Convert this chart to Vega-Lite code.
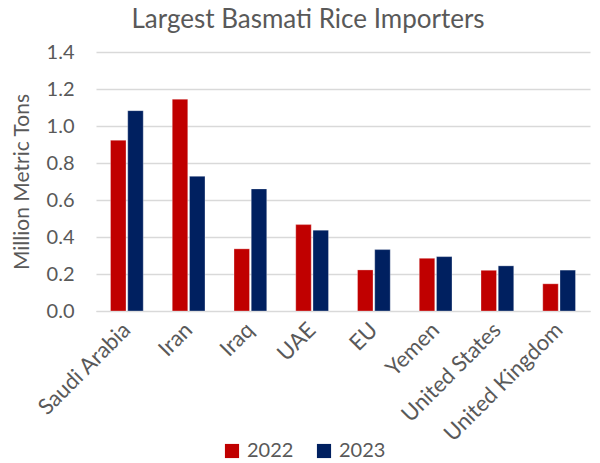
{
  "$schema": "https://vega.github.io/schema/vega-lite/v6.json",
  "width": 494,
  "height": 259,
  "autosize": "none",
  "padding": {"left": 96, "top": 52, "right": 10, "bottom": 152},
  "background": "white",
  "title": {
    "text": "Largest Basmati Rice Importers",
    "fontSize": 26,
    "font": "Lato",
    "fontWeight": "normal",
    "color": "#595959",
    "anchor": "middle",
    "dx": -35,
    "offset": 9
  },
  "data": {
    "values": [
      {"country": "Saudi Arabia", "year": "2022", "value": 0.923},
      {"country": "Saudi Arabia", "year": "2023", "value": 1.083},
      {"country": "Iran", "year": "2022", "value": 1.145},
      {"country": "Iran", "year": "2023", "value": 0.728},
      {"country": "Iraq", "year": "2022", "value": 0.336},
      {"country": "Iraq", "year": "2023", "value": 0.66},
      {"country": "UAE", "year": "2022", "value": 0.467},
      {"country": "UAE", "year": "2023", "value": 0.437},
      {"country": "EU", "year": "2022", "value": 0.222},
      {"country": "EU", "year": "2023", "value": 0.332},
      {"country": "Yemen", "year": "2022", "value": 0.285},
      {"country": "Yemen", "year": "2023", "value": 0.294},
      {"country": "United States", "year": "2022", "value": 0.22},
      {"country": "United States", "year": "2023", "value": 0.244},
      {"country": "United Kingdom", "year": "2022", "value": 0.147},
      {"country": "United Kingdom", "year": "2023", "value": 0.221}
    ]
  },
  "mark": {"type": "bar", "stroke": "white", "strokeWidth": 0.5, "strokeOpacity": 0.6},
  "encoding": {
    "x": {
      "field": "country",
      "type": "nominal",
      "sort": null,
      "scale": {"paddingInner": 0.47, "paddingOuter": 0.235},
      "axis": {
        "title": null,
        "labelAngle": -45,
        "labelAlign": "right",
        "labelBaseline": "middle",
        "labelFontSize": 22,
        "labelFont": "Lato",
        "labelColor": "#595959",
        "labelPadding": 15,
        "domain": true,
        "domainColor": "#d9d9d9",
        "ticks": false,
        "grid": false
      }
    },
    "xOffset": {"field": "year", "type": "nominal", "scale": {"paddingInner": 0.1}},
    "y": {
      "field": "value",
      "type": "quantitative",
      "scale": {"domain": [0, 1.4]},
      "axis": {
        "title": "Million Metric Tons",
        "titleFontSize": 21,
        "titleFont": "Lato",
        "titleFontWeight": "normal",
        "titleColor": "#595959",
        "titlePadding": 14,
        "values": [0, 0.2, 0.4, 0.6, 0.8, 1.0, 1.2, 1.4],
        "format": ".1f",
        "labelFontSize": 20,
        "labelFont": "Lato",
        "labelColor": "#595959",
        "labelPadding": 22,
        "domain": false,
        "ticks": false,
        "gridColor": "#d9d9d9",
        "gridWidth": 1.3
      }
    },
    "color": {
      "field": "year",
      "type": "nominal",
      "scale": {"domain": ["2022", "2023"], "range": ["#C00000", "#002060"]},
      "legend": {
        "title": null,
        "orient": "none",
        "legendX": 126,
        "legendY": 389,
        "direction": "horizontal",
        "symbolType": "square",
        "symbolSize": 200,
        "symbolStrokeWidth": 0,
        "labelFontSize": 20,
        "labelFont": "Lato",
        "labelColor": "#595959",
        "columnPadding": 20,
        "labelOffset": 5
      }
    }
  },
  "config": {"view": {"stroke": null}}
}
